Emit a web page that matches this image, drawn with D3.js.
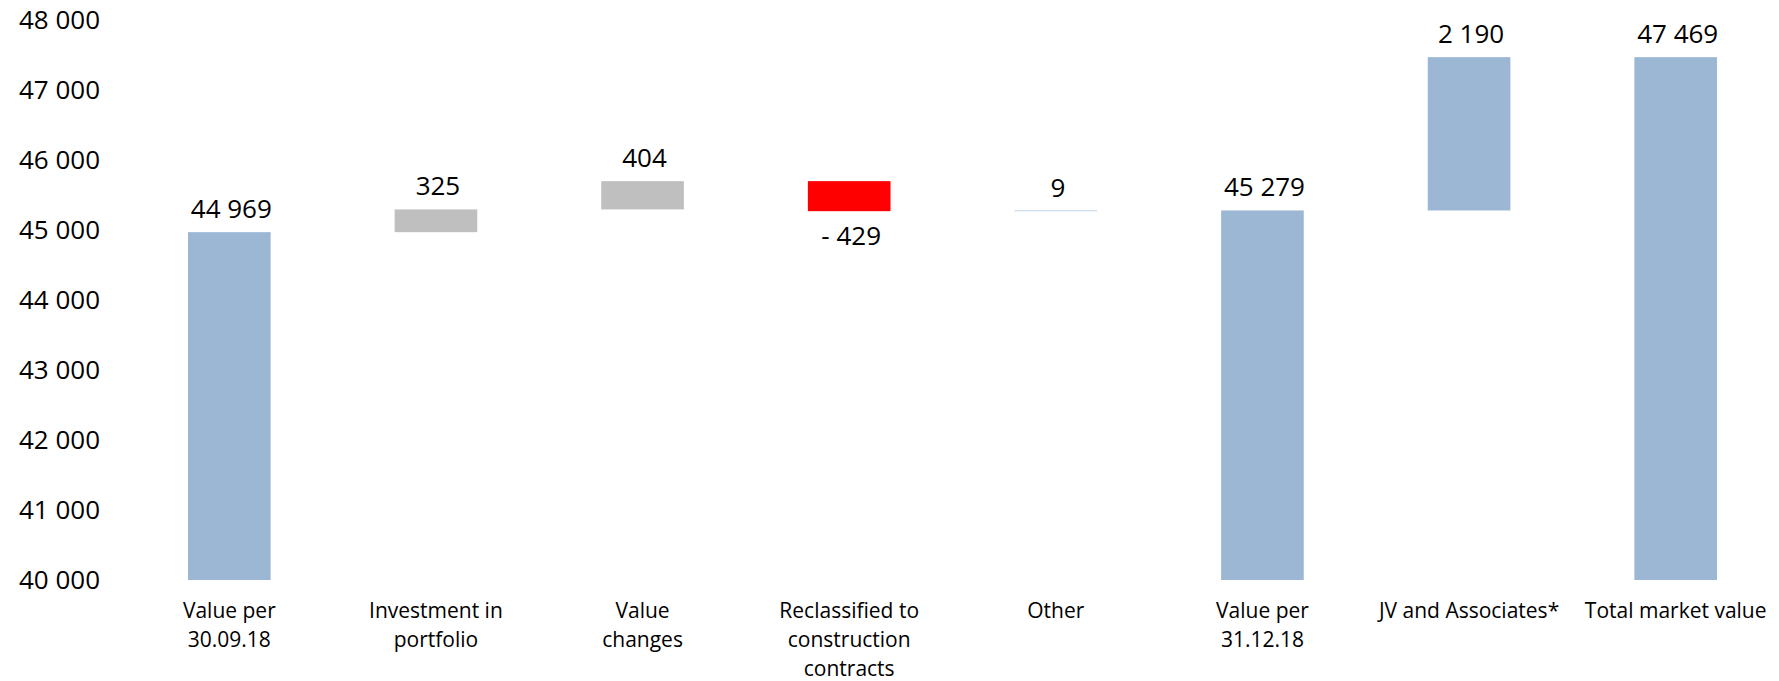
<!DOCTYPE html>
<html>
<head>
<meta charset="utf-8">
<script src="https://cdn.jsdelivr.net/npm/d3@7"></script>
<style>
  html, body { margin: 0; padding: 0; background: #fff; }
  svg { display: block; font-family: "Open Sans", "Noto Sans", sans-serif; }
</style>
</head>
<body>
<svg id="chart" width="1779" height="681"></svg>
<script>
// Market value bridge, figures in MSEK
const categories = [
  "Value per 30.09.18",
  "Investment in portfolio",
  "Value changes",
  "Reclassified to construction contracts",
  "Other",
  "Value per 31.12.18",
  "JV and Associates*",
  "Total market value"
];
const categoryLines = [
  ["Value per", "30.09.18"],
  ["Investment in", "portfolio"],
  ["Value", "changes"],
  ["Reclassified to", "construction", "contracts"],
  ["Other"],
  ["Value per", "31.12.18"],
  ["JV and Associates*"],
  ["Total market value"]
];
const values = [44969, 325, 404, -429, 9, 45279, 2190, 47469];
const barKinds = ["total", "increase", "increase", "decrease", "other", "total", "addition", "total"];
const yTicks = [40000, 41000, 42000, 43000, 44000, 45000, 46000, 47000, 48000];

const kindColor = {
  total: "#9bb7d3",
  addition: "#9bb7d3",
  other: "#9bb7d3",
  increase: "#bfbfbf",
  decrease: "#ff0000"
};

const svg = d3.select("#chart");
const margin = { left: 126, right: 0, top: 20, bottom: 101 };
const W = 1779, H = 681;

const x = d3.scaleBand()
  .domain(categories)
  .range([margin.left, W - margin.right])
  .paddingInner(0.6)
  .paddingOuter(0.3);

const y = d3.scaleLinear()
  .domain([40000, 48000])
  .range([H - margin.bottom, margin.top]);

// Running level for the floating bars
let level = 0;
const bars = categories.map((c, i) => {
  const v = values[i];
  let lo, hi;
  if (barKinds[i] === "total") {
    lo = y.domain()[0];
    hi = v;
    level = v;
  } else {
    lo = Math.min(level, level + v);
    hi = Math.max(level, level + v);
    level = level + v;
  }
  return { cat: c, v, lo, hi, kind: barKinds[i], lines: categoryLines[i] };
});

const group = d => d3.format(",")(Math.abs(d)).replace(/,/g, " ");
const fmtValue = d => (d < 0 ? "- " : "") + group(d);

// Y axis: labels only
const yAxis = d3.axisLeft(y)
  .tickValues(yTicks)
  .tickSize(0)
  .tickPadding(0)
  .tickFormat(d => group(d));

const gy = svg.append("g")
  .attr("transform", "translate(100,0)")
  .call(yAxis);
gy.select(".domain").remove();
gy.selectAll("text")
  .attr("font-family", "'Open Sans', sans-serif")
  .attr("font-size", 26)
  .attr("fill", "#000");

// Bars
svg.append("g").selectAll("rect")
  .data(bars)
  .join("rect")
  .attr("x", d => x(d.cat))
  .attr("width", x.bandwidth())
  .attr("y", d => y(d.hi))
  .attr("height", d => y(d.lo) - y(d.hi))
  .attr("fill", d => kindColor[d.kind]);

// Value labels
svg.append("g").selectAll("text")
  .data(bars)
  .join("text")
  .attr("x", d => x(d.cat) + x.bandwidth() / 2 + 2)
  .attr("y", d => d.v < 0 ? y(d.lo) + 34 : y(d.hi) - 14)
  .attr("text-anchor", "middle")
  .attr("font-size", 26)
  .attr("fill", "#000")
  .text(d => fmtValue(d.v));

// Category labels
const cat = svg.append("g").selectAll("text")
  .data(bars)
  .join("text")
  .attr("x", d => x(d.cat) + x.bandwidth() / 2)
  .attr("y", 618)
  .attr("text-anchor", "middle")
  .attr("font-size", 21)
  .attr("fill", "#000");
cat.selectAll("tspan")
  .data(d => d.lines.map(l => ({ l, cx: x(d.cat) + x.bandwidth() / 2 })))
  .join("tspan")
  .attr("x", d => d.cx)
  .attr("dy", (d, i) => i === 0 ? 0 : 29)
  .text(d => d.l);
</script>
</body>
</html>
